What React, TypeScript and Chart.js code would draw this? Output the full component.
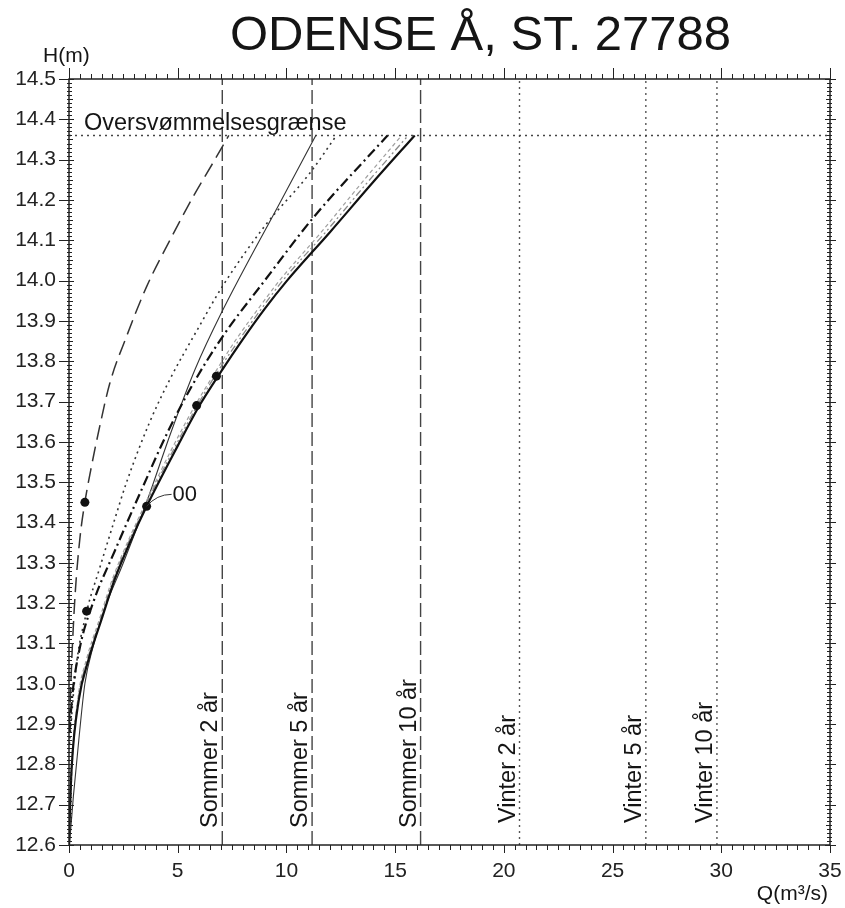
import React, { useEffect, useRef } from "react";
import { Chart, registerables } from "chart.js";

Chart.register(...registerables);

const TITLE = "ODENSE Å, ST. 27788";
const Y_TITLE = "H(m)";
const X_TITLE = "Q(m³/s)";
const X_TICKS = [0, 5, 10, 15, 20, 25, 30, 35];
const Y_TICKS = [
  12.6, 12.7, 12.8, 12.9, 13.0, 13.1, 13.2, 13.3, 13.4, 13.5, 13.6, 13.7, 13.8,
  13.9, 14.0, 14.1, 14.2, 14.3, 14.4, 14.5,
];

// Rating curves (Q in m3/s, H in m)
const CURVE_A_Q = [0.02, 0.12, 0.28, 0.5, 0.73, 1.0, 1.42, 1.88, 2.65, 3.57, 4.64, 5.71, 6.6, 7.35];
const CURVE_A_H = [12.9, 13.05, 13.22, 13.36, 13.45, 13.53, 13.64, 13.746, 13.862, 13.985, 14.1, 14.208, 14.29, 14.36];

const CURVE_B_Q = [0.02, 0.2, 0.45, 0.73, 1.1, 1.6, 2.5, 3.6, 4.7, 5.8, 7.01, 9.77, 11.35];
const CURVE_B_H = [12.6, 12.72, 12.86, 13.0, 13.09, 13.18, 13.3, 13.455, 13.625, 13.78, 13.92, 14.2, 14.36];

const CURVE_C_Q = [0.02, 0.3, 0.82, 1.4, 2.0, 2.65, 3.68, 4.64, 5.87, 7.05, 9.0, 11.07, 12.3];
const CURVE_C_H = [12.85, 13.03, 13.18, 13.285, 13.39, 13.5, 13.645, 13.755, 13.875, 13.985, 14.135, 14.266, 14.36];

const CURVE_D_Q = [0.02, 0.15, 0.5, 1.1, 2.11, 3.41, 4.5, 5.56, 7.05, 9.0, 11.22, 14.65];
const CURVE_D_H = [12.88, 12.97, 13.09, 13.2, 13.33, 13.49, 13.62, 13.73, 13.86, 14.0, 14.155, 14.36];

const CURVE_E_Q = [0.0, 0.04, 0.12, 0.45, 0.9, 1.5, 2.11, 2.8, 3.57, 5.0, 6.0, 7.0, 8.0, 9.0, 10.0, 12.0, 14.0, 15.9];
const CURVE_E_H = [12.6, 12.68, 12.79, 12.96, 13.06, 13.16, 13.26, 13.35, 13.44, 13.59, 13.69, 13.775, 13.855, 13.93, 13.998, 14.12, 14.245, 14.36];

const CURVE_F_Q = [0.02, 0.12, 0.42, 0.85, 1.45, 2.05, 3.5, 4.9, 5.9, 6.85, 7.85, 8.85, 9.8, 11.8, 13.75, 15.6];
const CURVE_F_H = [12.62, 12.79, 12.96, 13.06, 13.16, 13.26, 13.44, 13.59, 13.69, 13.775, 13.855, 13.93, 13.998, 14.12, 14.245, 14.36];

const CURVE_G_Q = [0.05, 0.15, 0.4, 0.8, 1.4, 2.0, 3.45, 4.8, 5.8, 6.75, 7.7, 8.7, 9.65, 11.6, 13.5, 15.3];
const CURVE_G_H = [12.65, 12.8, 12.96, 13.06, 13.16, 13.26, 13.44, 13.59, 13.69, 13.775, 13.855, 13.93, 13.998, 14.12, 14.245, 14.36];

// Measurements
const MEASURED_Q = [0.73, 0.81, 3.57, 5.87, 6.78];
const MEASURED_H = [13.45, 13.18, 13.44, 13.69, 13.763];

// Return-period discharges
const SUMMER_LABELS = ["Sommer 2 år", "Sommer 5 år", "Sommer 10 år"];
const SUMMER_Q = [7.05, 11.18, 16.17];
const WINTER_LABELS = ["Vinter 2 år", "Vinter 5 år", "Vinter 10 år"];
const WINTER_Q = [20.72, 26.53, 29.8];

const FLOOD_LEVEL = 14.36;
const FLOOD_LABEL = "Oversvømmelsesgrænse";
const CURVE_TAG = "00";
const CURVE_TAG_Q = 3.57;
const CURVE_TAG_H = 13.44;

const FONT = "'Liberation Sans', Arial, Helvetica, sans-serif";
const X_MIN = 0;
const X_MAX = 35;
const Y_MIN = 12.6;
const Y_MAX = 14.5;

const pts = (q: number[], h: number[]) => q.map((x, i) => ({ x, y: h[i] }));

const curve = (q: number[], h: number[], color: string, width: number, dash: number[]) => ({
  data: pts(q, h),
  borderColor: color,
  borderWidth: width,
  borderDash: dash,
  pointRadius: 0,
  fill: false,
  cubicInterpolationMode: "monotone" as const,
});

const vline = (q: number, color: string, width: number, dash: number[]) => ({
  data: [
    { x: q, y: Y_MIN },
    { x: q, y: Y_MAX },
  ],
  borderColor: color,
  borderWidth: width,
  borderDash: dash,
  pointRadius: 0,
  fill: false,
});

const decorPlugin = {
  id: "decor",
  afterDraw(chart: any) {
    const { ctx, chartArea, scales } = chart;
    const { left, right, top, bottom } = chartArea;
    const xs = scales.x;
    const ys = scales.y;
    ctx.save();

    // frame
    ctx.strokeStyle = "#222";
    ctx.lineWidth = 1.5;
    ctx.setLineDash([]);
    ctx.strokeRect(left, top, right - left, bottom - top);

    // x ticks (bottom and top)
    ctx.lineWidth = 1;
    ctx.beginPath();
    for (let i = 0; i <= 70; i++) {
      const v = X_MIN + i * 0.5;
      const px = Math.round(xs.getPixelForValue(v)) + 0.5;
      const major = i % 10 === 0;
      ctx.moveTo(px, bottom);
      ctx.lineTo(px, bottom + (major ? 8 : 5));
      ctx.moveTo(px, top);
      ctx.lineTo(px, top - (major ? 11 : 5));
    }
    // y ticks (left and right)
    for (let i = 0; i <= 190; i++) {
      const v = Y_MIN + i * 0.01;
      const py = Math.round(ys.getPixelForValue(v)) + 0.5;
      const major = i % 10 === 0;
      const mid = i % 5 === 0;
      ctx.moveTo(left - (major ? 10 : 2), py);
      ctx.lineTo(left + (major ? 5 : mid ? 4 : 3), py);
      ctx.moveTo(right - (major ? 5 : mid ? 4 : 3), py);
      ctx.lineTo(right + (major ? 6 : 2), py);
    }
    ctx.stroke();

    // texts
    ctx.fillStyle = "#151515";
    ctx.textBaseline = "alphabetic";
    ctx.textAlign = "left";
    ctx.font = `49px ${FONT}`;
    ctx.fillText(TITLE, 230, 50);

    ctx.font = `21px ${FONT}`;
    ctx.fillText(Y_TITLE, 43, 62);
    ctx.textAlign = "right";
    ctx.fillText(X_TITLE, 828, 900);

    // flood label
    ctx.textAlign = "left";
    ctx.font = `23.5px ${FONT}`;
    const fy = ys.getPixelForValue(FLOOD_LEVEL);
    ctx.fillText(FLOOD_LABEL, left + 15, fy - 5.5);

    // return period labels
    ctx.font = `23.5px ${FONT}`;
    const drawV = (labels: string[], qs: number[], off: number) => {
      labels.forEach((lab, i) => {
        const px = xs.getPixelForValue(qs[i]);
        ctx.save();
        ctx.translate(px - 5, bottom - off);
        ctx.rotate(-Math.PI / 2);
        ctx.textAlign = "left";
        ctx.fillText(lab, 0, 0);
        ctx.restore();
      });
    };
    drawV(SUMMER_LABELS, SUMMER_Q, 17);
    drawV(WINTER_LABELS, WINTER_Q, 22);

    // curve tag with leader
    const tx = xs.getPixelForValue(CURVE_TAG_Q);
    const ty = ys.getPixelForValue(CURVE_TAG_H);
    ctx.strokeStyle = "#333";
    ctx.lineWidth = 1;
    ctx.beginPath();
    ctx.moveTo(tx, ty);
    ctx.quadraticCurveTo(tx + 10, ty - 12, tx + 25, ty - 12);
    ctx.stroke();
    ctx.font = `22px ${FONT}`;
    ctx.textAlign = "left";
    ctx.textBaseline = "middle";
    ctx.fillText(CURVE_TAG, tx + 26, ty - 11);

    ctx.restore();
  },
};

export default function App() {
  const ref = useRef<HTMLCanvasElement | null>(null);

  useEffect(() => {
    document.body.style.margin = "0";
    const canvas = ref.current;
    if (!canvas) return;

    const datasets: any[] = [
      {
        data: pts(MEASURED_Q, MEASURED_H),
        showLine: false,
        pointRadius: 4.5,
        pointBackgroundColor: "#111",
        pointBorderColor: "#111",
        pointBorderWidth: 0,
      },
      curve(CURVE_E_Q, CURVE_E_H, "#111", 2.2, []),
      curve(CURVE_F_Q, CURVE_F_H, "#8a8a8a", 1.3, [7, 3, 2, 3, 2, 3]),
      curve(CURVE_G_Q, CURVE_G_H, "#a0a0a0", 1.2, [4, 3]),
      curve(CURVE_D_Q, CURVE_D_H, "#111", 2.2, [10, 4, 2, 4]),
      curve(CURVE_C_Q, CURVE_C_H, "#333", 1.6, [2, 4]),
      curve(CURVE_B_Q, CURVE_B_H, "#333", 1.1, []),
      curve(CURVE_A_Q, CURVE_A_H, "#333", 1.5, [15, 7]),
      {
        data: [
          { x: X_MIN, y: FLOOD_LEVEL },
          { x: X_MAX, y: FLOOD_LEVEL },
        ],
        borderColor: "#444",
        borderWidth: 1.4,
        borderDash: [2, 4],
        pointRadius: 0,
        fill: false,
      },
      ...SUMMER_Q.map((q) => vline(q, "#444", 1.4, [14, 5])),
      ...WINTER_Q.map((q) => vline(q, "#555", 1.4, [2, 4])),
    ];

    const chart = new Chart(canvas, {
      type: "line",
      data: { datasets },
      options: {
        animation: false,
        responsive: false,
        devicePixelRatio: 1,
        layout: { padding: { top: 79, right: 15, left: 0, bottom: 0 } },
        plugins: {
          legend: { display: false },
          tooltip: { enabled: false },
          title: { display: false },
        },
        elements: { line: { tension: 0 } },
        scales: {
          x: {
            type: "linear",
            min: X_MIN,
            max: X_MAX,
            grid: { display: false, drawTicks: false },
            border: { display: false },
            afterBuildTicks: (s: any) => {
              s.ticks = X_TICKS.map((v) => ({ value: v }));
            },
            afterFit: (s: any) => {
              s.height = 63;
              s.paddingLeft = 0;
              s.paddingRight = 0;
            },
            ticks: {
              autoSkip: false,
              maxRotation: 0,
              padding: 14,
              color: "#222",
              font: { family: FONT, size: 21 },
              callback: (v: any) => String(v),
            },
          },
          y: {
            type: "linear",
            min: Y_MIN,
            max: Y_MAX,
            grid: { display: false, drawTicks: false },
            border: { display: false },
            afterBuildTicks: (s: any) => {
              s.ticks = Y_TICKS.map((v) => ({ value: v }));
            },
            afterFit: (s: any) => {
              s.width = 69;
              s.paddingTop = 0;
              s.paddingBottom = 0;
            },
            ticks: {
              autoSkip: false,
              padding: 13,
              color: "#222",
              font: { family: FONT, size: 21 },
              callback: (v: any) => Number(v).toFixed(1),
            },
          },
        },
      },
      plugins: [decorPlugin],
    } as any);

    return () => chart.destroy();
  }, []);

  return (
    <div style={{ width: 845, height: 908, background: "#fff" }}>
      <canvas ref={ref} width={845} height={908} style={{ display: "block" }} />
    </div>
  );
}
